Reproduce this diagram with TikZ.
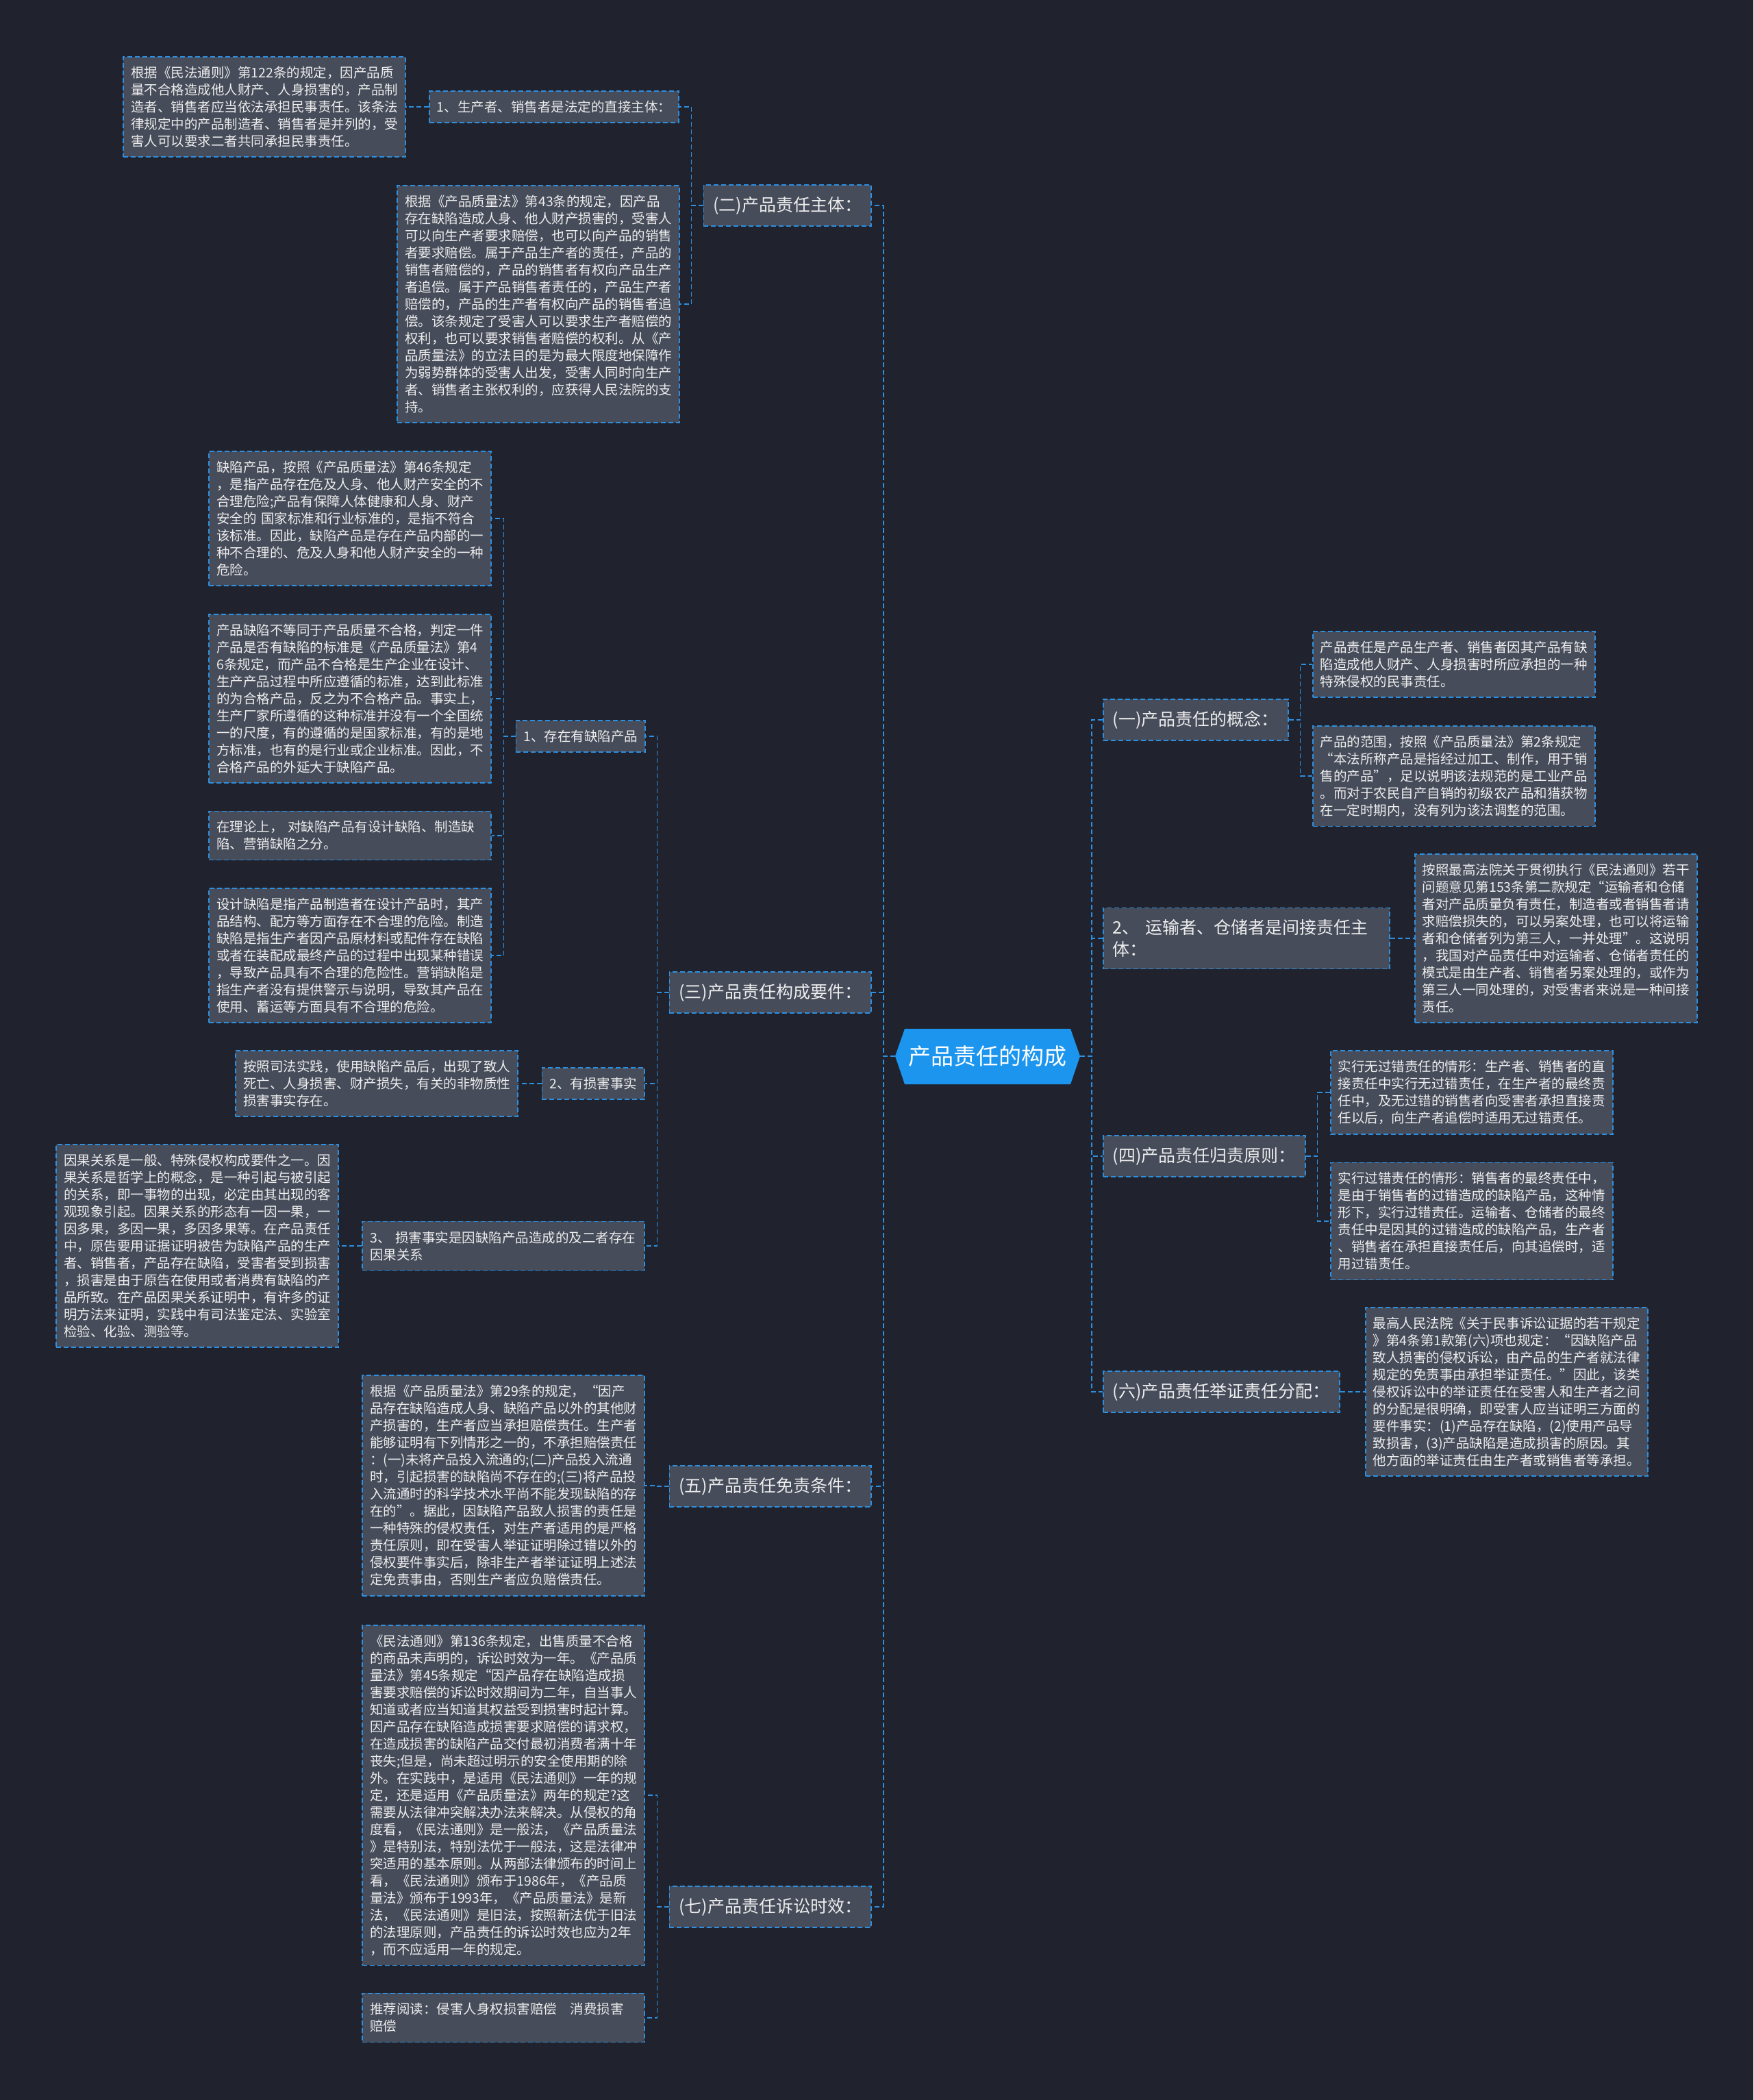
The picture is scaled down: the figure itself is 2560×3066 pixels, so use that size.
\documentclass[tikz,border=0pt]{standalone}
\usepackage{fontspec}
\setmainfont{Noto Sans CJK SC}
\usetikzlibrary{calc}

\definecolor{bgnavy}{HTML}{20232E}
\definecolor{boxgray}{HTML}{464C5A}
\definecolor{linkblue}{HTML}{2D8FE0}
\definecolor{rootblue}{HTML}{1B95EE}
\definecolor{txtwhite}{HTML}{EDEDED}

\begin{document}
\begin{tikzpicture}[x=1pt,y=-1pt,every node/.style={text=txtwhite},
  leaf/.style={draw=linkblue,fill=boxgray,line width=1.6pt,dash pattern=on 7pt off 4pt,
    inner xsep=11pt,inner ysep=14pt,align=left,font=\fontsize{19.5pt}{25pt}\selectfont},
  note/.style={leaf,text width=390pt},
  lvone/.style={leaf,inner xsep=14pt,inner ysep=17pt,font=\fontsize{25pt}{32pt}\selectfont},
  link/.style={draw=linkblue,line width=1.6pt,dash pattern=on 7pt off 4pt}]
  \newcommand{\tieleft}[2]{\draw[link] (#1.west) -- ++(-17,0) |- (#2.east);}
  \newcommand{\tieright}[2]{\draw[link] (#1.east) -- ++(17,0) |- (#2.west);}

  \fill[bgnavy] (0,0) rectangle (2560,3066);

  \coordinate (rc) at (1442,1542);
  \fill[rootblue] ($(rc)+(-135,0)$) -- ($(rc)+(-121,-40)$) -- ($(rc)+(121,-40)$)
    -- ($(rc)+(135,0)$) -- ($(rc)+(121,41)$) -- ($(rc)+(-121,41)$) -- cycle;
  \node[minimum width=270pt,minimum height=81pt,inner sep=0pt,text=white,
    font=\fontsize{33pt}{40pt}\selectfont] (root) at (rc) {产品责任的构成};

  \node[lvone,anchor=east] (br2) at (1273,300) {(二)产品责任主体：};
  \node[leaf,anchor=east] (lab21) at (992,156) {1、生产者、销售者是法定的直接主体：};
  \node[note,anchor=east] (t211) at (593,156) {根据《民法通则》第122条的规定，因产品质\\量不合格造成他人财产、人身损害的，产品制\\造者、销售者应当依法承担民事责任。该条法\\律规定中的产品制造者、销售者是并列的，受\\害人可以要求二者共同承担民事责任。};
  \node[note,anchor=east] (t22) at (993,444) {根据《产品质量法》第43条的规定，因产品\\存在缺陷造成人身、他人财产损害的，受害人\\可以向生产者要求赔偿，也可以向产品的销售\\者要求赔偿。属于产品生产者的责任，产品的\\销售者赔偿的，产品的销售者有权向产品生产\\者追偿。属于产品销售者责任的，产品生产者\\赔偿的，产品的生产者有权向产品的销售者追\\偿。该条规定了受害人可以要求生产者赔偿的\\权利，也可以要求销售者赔偿的权利。从《产\\品质量法》的立法目的是为最大限度地保障作\\为弱势群体的受害人出发，受害人同时向生产\\者、销售者主张权利的，应获得人民法院的支\\持。};

  \node[lvone,anchor=east] (br3) at (1273,1449) {(三)产品责任构成要件：};
  \node[leaf,anchor=east] (lab31) at (943,1075) {1、存在有缺陷产品};
  \node[note,anchor=east] (t311) at (718,757) {缺陷产品，按照《产品质量法》第46条规定\\，是指产品存在危及人身、他人财产安全的不\\合理危险;产品有保障人体健康和人身、财产\\安全的~国家标准和行业标准的，是指不符合\\该标准。因此，缺陷产品是存在产品内部的一\\种不合理的、危及人身和他人财产安全的一种\\危险。};
  \node[note,anchor=east] (t312) at (718,1020) {产品缺陷不等同于产品质量不合格，判定一件\\产品是否有缺陷的标准是《产品质量法》第4\\6条规定，而产品不合格是生产企业在设计、\\生产产品过程中所应遵循的标准，达到此标准\\的为合格产品，反之为不合格产品。事实上，\\生产厂家所遵循的这种标准并没有一个全国统\\一的尺度，有的遵循的是国家标准，有的是地\\方标准，也有的是行业或企业标准。因此，不\\合格产品的外延大于缺陷产品。};
  \node[note,anchor=east] (t313) at (718,1220) {在理论上，~对缺陷产品有设计缺陷、制造缺\\陷、营销缺陷之分。};
  \node[note,anchor=east] (t314) at (718,1395) {设计缺陷是指产品制造者在设计产品时，其产\\品结构、配方等方面存在不合理的危险。制造\\缺陷是指生产者因产品原材料或配件存在缺陷\\或者在装配成最终产品的过程中出现某种错误\\，导致产品具有不合理的危险性。营销缺陷是\\指生产者没有提供警示与说明，导致其产品在\\使用、蓄运等方面具有不合理的危险。};
  \node[leaf,anchor=east] (lab32) at (942,1582) {2、有损害事实};
  \node[note,anchor=east] (t321) at (757,1582) {按照司法实践，使用缺陷产品后，出现了致人\\死亡、人身损害、财产损失，有关的非物质性\\损害事实存在。};
  \node[note,anchor=east] (lab33) at (942,1819) {3、~损害事实是因缺陷产品造成的及二者存在\\因果关系};
  \node[note,anchor=east] (t331) at (495,1819) {因果关系是一般、特殊侵权构成要件之一。因\\果关系是哲学上的概念，是一种引起与被引起\\的关系，即一事物的出现，必定由其出现的客\\观现象引起。因果关系的形态有一因一果，一\\因多果，多因一果，多因多果等。在产品责任\\中，原告要用证据证明被告为缺陷产品的生产\\者、销售者，产品存在缺陷，受害者受到损害\\，损害是由于原告在使用或者消费有缺陷的产\\品所致。在产品因果关系证明中，有许多的证\\明方法来证明，实践中有司法鉴定法、实验室\\检验、化验、测验等。};

  \node[lvone,anchor=east] (br5) at (1273,2170) {(五)产品责任免责条件：};
  \node[note,anchor=east] (t51) at (942,2169) {根据《产品质量法》第29条的规定，“因产\\品存在缺陷造成人身、缺陷产品以外的其他财\\产损害的，生产者应当承担赔偿责任。生产者\\能够证明有下列情形之一的，不承担赔偿责任\\：(一)未将产品投入流通的;(二)产品投入流通\\时，引起损害的缺陷尚不存在的;(三)将产品投\\入流通时的科学技术水平尚不能发现缺陷的存\\在的”。据此，因缺陷产品致人损害的责任是\\一种特殊的侵权责任，对生产者适用的是严格\\责任原则，即在受害人举证证明除过错以外的\\侵权要件事实后，除非生产者举证证明上述法\\定免责事由，否则生产者应负赔偿责任。};

  \node[lvone,anchor=east] (br7) at (1273,2784) {(七)产品责任诉讼时效：};
  \node[note,anchor=east] (t71) at (942,2621) {《民法通则》第136条规定，出售质量不合格\\的商品未声明的，诉讼时效为一年。《产品质\\量法》第45条规定“因产品存在缺陷造成损\\害要求赔偿的诉讼时效期间为二年，自当事人\\知道或者应当知道其权益受到损害时起计算。\\因产品存在缺陷造成损害要求赔偿的请求权，\\在造成损害的缺陷产品交付最初消费者满十年\\丧失;但是，尚未超过明示的安全使用期的除\\外。在实践中，是适用《民法通则》一年的规\\定，还是适用《产品质量法》两年的规定?这\\需要从法律冲突解决办法来解决。从侵权的角\\度看，《民法通则》是一般法，《产品质量法\\》是特别法，特别法优于一般法，这是法律冲\\突适用的基本原则。从两部法律颁布的时间上\\看，《民法通则》颁布于1986年，《产品质\\量法》颁布于1993年，《产品质量法》是新\\法，《民法通则》是旧法，按照新法优于旧法\\的法理原则，产品责任的诉讼时效也应为2年\\，而不应适用一年的规定。};
  \node[note,anchor=east] (t72) at (942,2946) {推荐阅读：侵害人身权损害赔偿　消费损害\\赔偿};

  \node[lvone,anchor=west] (br1) at (1610,1051) {(一)产品责任的概念：};
  \node[note,anchor=west] (t11) at (1916,970) {产品责任是产品生产者、销售者因其产品有缺\\陷造成他人财产、人身损害时所应承担的一种\\特殊侵权的民事责任。};
  \node[note,anchor=west] (t12) at (1916,1133) {产品的范围，按照《产品质量法》第2条规定\\“本法所称产品是指经过加工、制作，用于销\\售的产品”，足以说明该法规范的是工业产品\\。而对于农民自产自销的初级农产品和猎获物\\在一定时期内，没有列为该法调整的范围。};

  \node[lvone,anchor=west,text width=390pt] (br2r) at (1610,1370) {2、~运输者、仓储者是间接责任主\\体：};
  \node[note,anchor=west] (t2r) at (2065,1370) {按照最高法院关于贯彻执行《民法通则》若干\\问题意见第153条第二款规定“运输者和仓储\\者对产品质量负有责任，制造者或者销售者请\\求赔偿损失的，可以另案处理，也可以将运输\\者和仓储者列为第三人，一并处理”。这说明\\，我国对产品责任中对运输者、仓储者责任的\\模式是由生产者、销售者另案处理的，或作为\\第三人一同处理的，对受害者来说是一种间接\\责任。};

  \node[lvone,anchor=west] (br4) at (1610,1688) {(四)产品责任归责原则：};
  \node[note,anchor=west] (t41) at (1942,1595) {实行无过错责任的情形：生产者、销售者的直\\接责任中实行无过错责任，在生产者的最终责\\任中，及无过错的销售者向受害者承担直接责\\任以后，向生产者追偿时适用无过错责任。};
  \node[note,anchor=west] (t42) at (1942,1783) {实行过错责任的情形：销售者的最终责任中，\\是由于销售者的过错造成的缺陷产品，这种情\\形下，实行过错责任。运输者、仓储者的最终\\责任中是因其的过错造成的缺陷产品，生产者\\、销售者在承担直接责任后，向其追偿时，适\\用过错责任。};

  \node[lvone,anchor=west] (br6) at (1610,2032) {(六)产品责任举证责任分配：};
  \node[note,anchor=west] (t61) at (1993,2032) {最高人民法院《关于民事诉讼证据的若干规定\\》第4条第1款第(六)项也规定：“因缺陷产品\\致人损害的侵权诉讼，由产品的生产者就法律\\规定的免责事由承担举证责任。”因此，该类\\侵权诉讼中的举证责任在受害人和生产者之间\\的分配是很明确，即受害人应当证明三方面的\\要件事实：(1)产品存在缺陷，(2)使用产品导\\致损害，(3)产品缺陷是造成损害的原因。其\\他方面的举证责任由生产者或销售者等承担。};

  \tieleft{root}{br2} \tieleft{root}{br3} \tieleft{root}{br5} \tieleft{root}{br7}
  \tieright{root}{br1} \tieright{root}{br2r} \tieright{root}{br4} \tieright{root}{br6}
  \tieleft{br2}{lab21} \tieleft{br2}{t22} \tieleft{lab21}{t211}
  \tieleft{br3}{lab31} \tieleft{br3}{lab32} \tieleft{br3}{lab33}
  \tieleft{lab31}{t311} \tieleft{lab31}{t312} \tieleft{lab31}{t313} \tieleft{lab31}{t314}
  \tieleft{lab32}{t321} \tieleft{lab33}{t331}
  \tieleft{br5}{t51}
  \tieleft{br7}{t71} \tieleft{br7}{t72}
  \tieright{br1}{t11} \tieright{br1}{t12}
  \tieright{br2r}{t2r}
  \tieright{br4}{t41} \tieright{br4}{t42}
  \tieright{br6}{t61}
\end{tikzpicture}
\end{document}
